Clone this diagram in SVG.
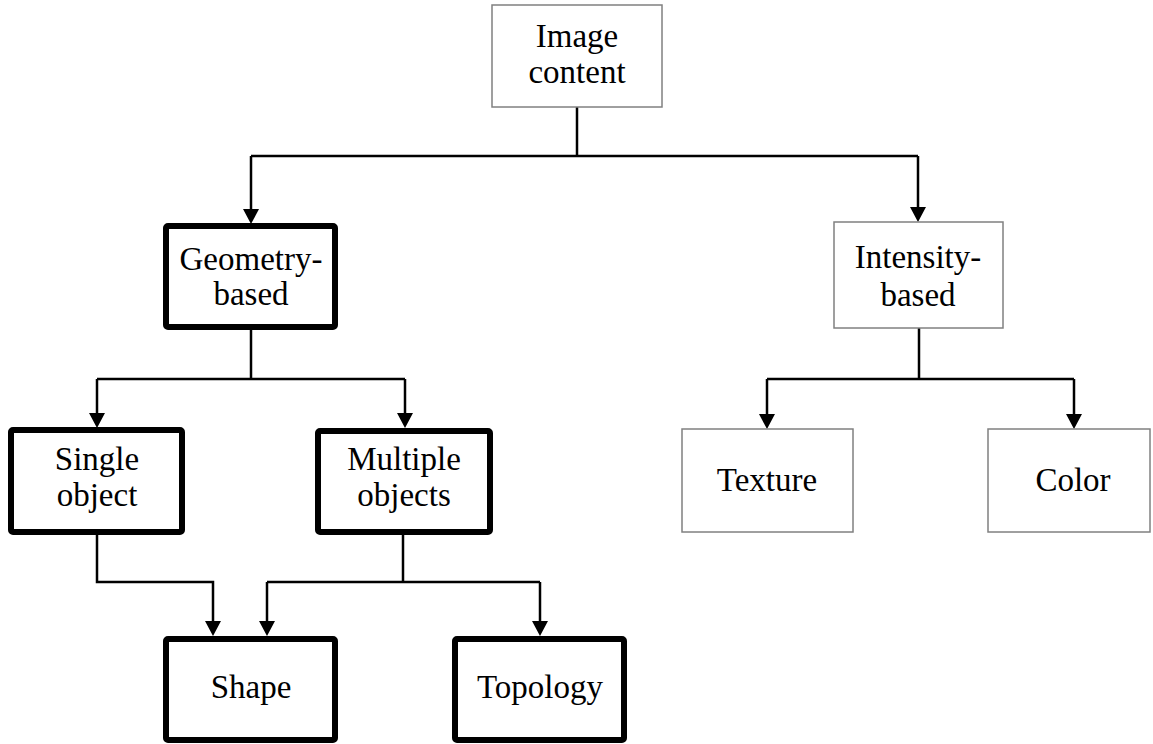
<svg xmlns="http://www.w3.org/2000/svg" width="1153" height="744" viewBox="0 0 1153 744">
<style>
.thin{fill:#fff;stroke:#808080;stroke-width:1.5}
.thick{fill:#fff;stroke:#000;stroke-width:6}
.lbl{font-family:"Liberation Serif","Times New Roman",serif;font-size:33px;fill:#000;text-anchor:middle}
.c{fill:none;stroke:#000;stroke-width:2.5}
.ah{fill:#000;stroke:none}
</style>
<defs>
<path id="head" d="M-8,-15 L8,-15 L0,0 Z"/>
</defs>
<g id="connectors">
<path class="c" d="M577,107 V156"/>
<path class="c" d="M251,156 H918"/>
<path class="c" d="M251,156 V212"/>
<path class="c" d="M918,156 V210"/>
<path class="c" d="M251,330 V379"/>
<path class="c" d="M97,379 H405"/>
<path class="c" d="M97,379 V415"/>
<path class="c" d="M405,379 V415"/>
<path class="c" d="M919,328 V379"/>
<path class="c" d="M767,379 H1074"/>
<path class="c" d="M767,379 V417"/>
<path class="c" d="M1074,379 V417"/>
<path class="c" d="M97,535 V582 H213 V623"/>
<path class="c" d="M403,535 V582"/>
<path class="c" d="M267,582 H540"/>
<path class="c" d="M267,582 V623"/>
<path class="c" d="M540,582 V623"/>
<use href="#head" class="ah" x="251" y="224"/>
<use href="#head" class="ah" x="918" y="222"/>
<use href="#head" class="ah" x="97" y="428"/>
<use href="#head" class="ah" x="405" y="428"/>
<use href="#head" class="ah" x="767" y="429"/>
<use href="#head" class="ah" x="1074" y="429"/>
<use href="#head" class="ah" x="213" y="636"/>
<use href="#head" class="ah" x="267" y="636"/>
<use href="#head" class="ah" x="540" y="636"/>
</g>
<g id="image-content">
<rect class="thin" x="492" y="5" width="170" height="102"/>
<text class="lbl" x="577" y="47">Image</text>
<text class="lbl" x="577" y="83">content</text>
</g>
<g id="geometry-based">
<rect class="thick" x="166" y="226" width="169" height="101" rx="2"/>
<text class="lbl" x="251" y="270">Geometry-</text>
<text class="lbl" x="251" y="305">based</text>
</g>
<g id="intensity-based">
<rect class="thin" x="834" y="222" width="169" height="106"/>
<text class="lbl" x="918" y="268">Intensity-</text>
<text class="lbl" x="918" y="306">based</text>
</g>
<g id="single-object">
<rect class="thick" x="11" y="430" width="171" height="102" rx="2"/>
<text class="lbl" x="97" y="470">Single</text>
<text class="lbl" x="97" y="506">object</text>
</g>
<g id="multiple-objects">
<rect class="thick" x="318" y="431" width="172" height="101" rx="2"/>
<text class="lbl" x="404" y="470">Multiple</text>
<text class="lbl" x="404" y="506">objects</text>
</g>
<g id="texture">
<rect class="thin" x="682" y="429" width="171" height="103"/>
<text class="lbl" x="767" y="491">Texture</text>
</g>
<g id="color">
<rect class="thin" x="988" y="429" width="162" height="103"/>
<text class="lbl" x="1073" y="491">Color</text>
</g>
<g id="shape">
<rect class="thick" x="166" y="639" width="169" height="101" rx="2"/>
<text class="lbl" x="251" y="698">Shape</text>
</g>
<g id="topology">
<rect class="thick" x="455" y="639" width="169" height="101" rx="2"/>
<text class="lbl" x="540" y="698">Topology</text>
</g>
</svg>
